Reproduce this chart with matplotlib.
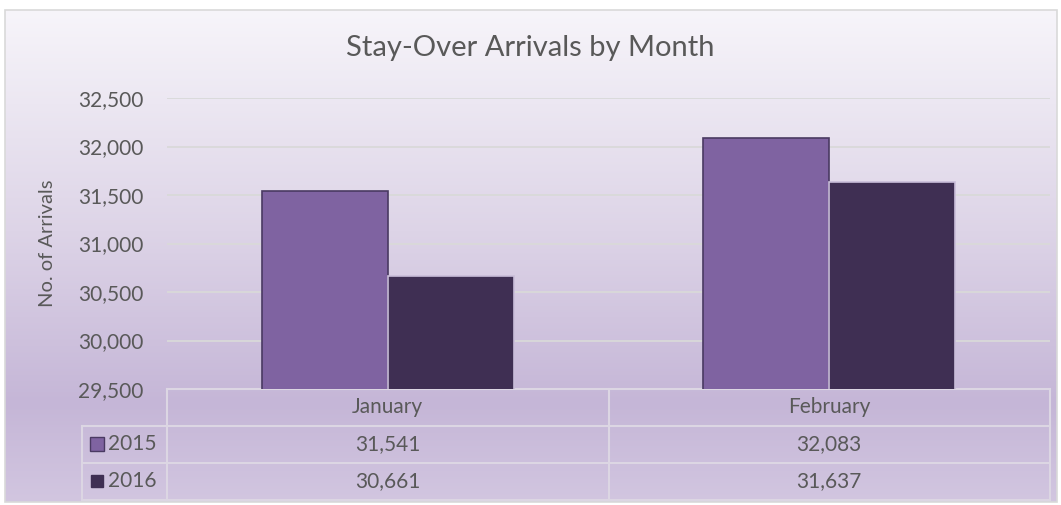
import numpy as np
import matplotlib.pyplot as plt
from matplotlib.colors import LinearSegmentedColormap
from matplotlib.patches import Rectangle
import matplotlib.transforms as mtransforms

months = ["January", "February"]
years = ["2015", "2016"]
arrivals_2015 = [31541, 32083]
arrivals_2016 = [30661, 31637]
yticks = [29500, 30000, 30500, 31000, 31500, 32000, 32500]

plt.rcParams['font.family'] = ['Lato', 'DejaVu Sans']
txt = '#595959'
grid = '#d9d9d9'

fig = plt.figure(figsize=(10.61, 5.05), dpi=100)

# background gradient inside the chart border
bg = fig.add_axes([0, 0, 1, 1], zorder=-10)
bg.set_axis_off()
cmap = LinearSegmentedColormap.from_list('bg', [(0, '#f7f5fa'), (0.45, '#ddd4e7'),
                                                 (0.8, '#c5b6d7'), (1, '#d2c6e0')])
grad = np.linspace(0, 1, 256).reshape(-1, 1)
bg.imshow(grad, cmap=cmap, aspect='auto', extent=[5 / 1061, 1057 / 1061, 3 / 505, 495 / 505],
          origin='upper')
bg.set_xlim(0, 1)
bg.set_ylim(0, 1)
bg.add_patch(Rectangle((5 / 1061, 3 / 505), 1052 / 1061, 492 / 505, fill=False,
                       edgecolor=grid, lw=1.2))

ax = fig.add_axes([167 / 1061, 116 / 505, 883 / 1061, 291 / 505])
ax.patch.set_alpha(0)

x = np.arange(len(months))
w = 0.285
ax.bar(x - w / 2, arrivals_2015, w, color='#7f63a1', edgecolor='#4a3a62', lw=1.2, zorder=3)
ax.bar(x + w / 2, arrivals_2016, w, color='#3f2f53', edgecolor='#c9bdd9', lw=1.2, zorder=3)

ax.set_xlim(-0.5, 1.5)
ax.set_ylim(29500, 32500)
ax.set_yticks(yticks)
ax.set_yticklabels([f"{v:,}" for v in yticks], color=txt, fontsize=15)
ax.set_xticks([])
ax.tick_params(axis='y', length=0, pad=17)
for s in ax.spines.values():
    s.set_visible(False)
ax.yaxis.grid(True, color=grid, lw=1.3, zorder=0)
ax.set_axisbelow(True)
ax.set_ylabel("No. of Arrivals", color=txt, fontsize=14.5, labelpad=16)
fig.text(0.5, 0.905, "Stay-Over Arrivals by Month", ha='center', va='center',
         color=txt, fontsize=21)

# data table under the axis
tr = mtransforms.blended_transform_factory(ax.transData, ax.transAxes)
rows = [0, -0.127, -0.254, -0.381]
lx = -0.5 - 85 / 883 * 2
kw = dict(transform=tr, color='#dcd6e3', lw=1.5, clip_on=False)
ax.plot([-0.5, 1.5], [rows[0], rows[0]], **kw)
for r in rows[1:]:
    ax.plot([lx, 1.5], [r, r], **kw)
ax.plot([lx, lx], [rows[1], rows[3]], **kw)
for b in [-0.5, 0.5, 1.5]:
    ax.plot([b, b], [rows[0], rows[3]], **kw)

for i, m in enumerate(months):
    ax.text(x[i], (rows[0] + rows[1]) / 2, m, transform=tr, ha='center', va='center',
            color=txt, fontsize=15)
    ax.text(x[i], (rows[1] + rows[2]) / 2, f"{arrivals_2015[i]:,}", transform=tr,
            ha='center', va='center', color=txt, fontsize=15)
    ax.text(x[i], (rows[2] + rows[3]) / 2, f"{arrivals_2016[i]:,}", transform=tr,
            ha='center', va='center', color=txt, fontsize=15)

for j, (yr, fc, ec, ms) in enumerate(zip(years, ['#7f63a1', '#3f2f53'],
                                         ['#4a3a62', '#3f2f53'], [10, 8])):
    yc = (rows[j + 1] + rows[j + 2]) / 2
    ax.plot([lx + 0.035], [yc], marker='s', ms=ms, mfc=fc, mec=ec, mew=1,
            transform=tr, clip_on=False)
    ax.text(lx + 0.058, yc, yr, transform=tr, ha='left', va='center', color=txt, fontsize=15)

fig.savefig("out.png", dpi=100)
